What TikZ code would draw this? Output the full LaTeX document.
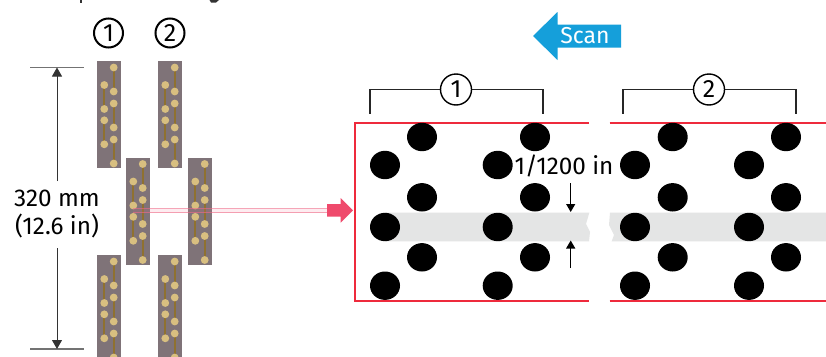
\documentclass[tikz,border=0pt]{standalone}
\usepackage{fontspec}
\setmainfont{Fira Sans}
\usetikzlibrary{arrows.meta}
\definecolor{slab}{HTML}{7F7378}
\definecolor{pad}{HTML}{D8BF80}
\definecolor{trace}{HTML}{8F7130}
\definecolor{redline}{HTML}{EE2A3C}
\definecolor{pinkarrow}{HTML}{EF4A6C}
\definecolor{pinkline}{HTML}{EF6A88}
\definecolor{scanblue}{HTML}{159FDA}
\definecolor{band}{HTML}{E4E5E5}
\definecolor{dimgray}{HTML}{333333}
\tikzset{
  x=1pt,y=-1pt,
  labeltext/.style={font=\fontsize{24.3}{28}\selectfont,text=black,inner sep=0pt},
  numcircle/.style={circle,draw=black,line width=2pt,fill=white,minimum size=29pt,inner sep=0pt,font=\fontsize{25}{25}\selectfont},
  bracket/.style={draw=black!85,line width=1.4pt},
  redrule/.style={draw=redline,line width=2.3pt},
  dimline/.style={draw=dimgray,line width=1pt},
  dimtick/.style={draw=gray!90!black,line width=1.4pt},
  pinarrow/.style={draw=black,line width=1.2pt,-{Triangle[length=8pt,width=9pt]}},
  beam/.style={draw=pinkline,opacity=.6,line width=1.3pt}
}
\newcommand{\printhead}[2]{%
  \begin{scope}[shift={(#1,#2)}]
    \fill[slab] (0,0) rectangle (24,107);
    \foreach \a/\b in {16.7/6.5,16.7/42.5,16.7/78.5,7.3/24,7.3/59.3}{
      \draw[trace,line width=2.3pt] (\a,\b) -- (\a,\b+24);
      \fill[pad] (\a,\b) circle (3.9) (\a,\b+24) circle (3.9);
    }
  \end{scope}}
\newcommand{\dotgroup}[1]{%
  \foreach \px/\py in {#1}{\fill[black] (\px,\py) ellipse (15 and 14.2);}}
\begin{document}
\begin{tikzpicture}
\useasboundingbox (0,0) rectangle (826,356);
\fill[white] (0,0) rectangle (826,356);
\begin{scope}
\clip (0,0) rectangle (826,356);
\printhead{97}{61}
\printhead{158}{61}
\printhead{126}{157.5}
\printhead{188}{157.5}
\printhead{97}{255}
\printhead{158}{255}
\end{scope}
% cropped descenders of the line above the picture
\fill[dimgray] (79.5,0) rectangle (82,2.5);
\fill[dimgray] (209.5,0) -- (219,0) -- (216,2.5) -- (211,2.5) -- cycle;
% numbers above heads
\node[numcircle] (n1) at (108.5,33) {1};
\node[numcircle] (n2) at (170,33) {2};
% dimension
\coordinate (dimtop) at (57,67.5);
\coordinate (dimbot) at (57,349);
\node[labeltext,align=center] (dimlabel) at (57,214.5) {320 mm\\(12.6 in)};
\coordinate (dimfromtop) at (57,181);
\coordinate (dimfrombot) at (57,248);
\draw[dimtick] (30,67.5) -- (84,67.5);
\draw[dimtick] (30,349) -- (84,349);
\draw[dimline,-{Triangle[length=9pt,width=10pt]}] (dimfromtop) -- (dimtop);
\draw[dimline,-{Triangle[length=9pt,width=10pt]}] (dimfrombot) -- (dimbot);
% band
\fill[band] (385,212.7) -- (589.3,212.7) -- (586,224) -- (590,232) -- (589,241.3) -- (385,241.3) -- cycle;
\fill[band] (610,212.7) -- (826,212.7) -- (826,241.3) -- (611.7,241.3) -- (614,235) -- (609,225) -- cycle;
% pink beam
\fill[pinkline,opacity=.12] (133,208.5) rectangle (328,212.5);
\draw[beam] (133,208.5) -- (328,208.5);
\draw[beam] (133,212.5) -- (328,212.5);
\fill[pinkarrow] (327,204) -- (340.7,204) -- (340.7,198) -- (353,210.4) -- (340.7,222.7) -- (340.7,216.7) -- (327,216.7) -- cycle;
% red frame
\draw[redrule] (589,122.7) -- (355,122.7) -- (355,300.7) -- (589,300.7);
\draw[redrule] (609.5,122.7) -- (826,122.7);
\draw[redrule] (609.5,300.7) -- (826,300.7);
% dots
\dotgroup{422/137,535/137,385/165,497.7/165,422/197.3,535/197.3,385/227,497.7/227,422/257.3,535/257.3,385/285.7,497.7/285.7}
\dotgroup{672.7/137,786/137,635/165,749/165,672.7/197.3,786/197.3,635/227,749/227,672.7/257.3,786/257.3,635/285.7,749/285.7}
% brackets
\draw[bracket] (370,113.5) -- (370,89.5) -- (543,89.5) -- (543,113.5);
\draw[bracket] (623,113.5) -- (623,89.5) -- (796,89.5) -- (796,113.5);
\node[numcircle,minimum size=31pt,line width=1.4pt] (b1) at (456,89.5) {1};
\node[numcircle,minimum size=31pt,line width=1.4pt] (b2) at (709,89.5) {2};
% pitch label
\node[labeltext] (pitch) at (564,165.5) {1/1200 in};
\coordinate (pa) at (570.7,212);
\coordinate (pb) at (570.7,240.5);
\coordinate (pas) at (570.7,183);
\coordinate (pbs) at (570.7,268);
\draw[pinarrow] (pas) -- (pa);
\draw[pinarrow] (pbs) -- (pb);
% scan
\fill[scanblue] (533,36) -- (557.5,12) -- (557.5,24.5) -- (621,24.5) -- (621,47.5) -- (557.5,47.5) -- (557.5,60) -- cycle;
\node[font=\fontsize{23}{24}\selectfont,text=white,inner sep=0pt] (scan) at (585,35.5) {Scan};
\end{tikzpicture}
\end{document}
